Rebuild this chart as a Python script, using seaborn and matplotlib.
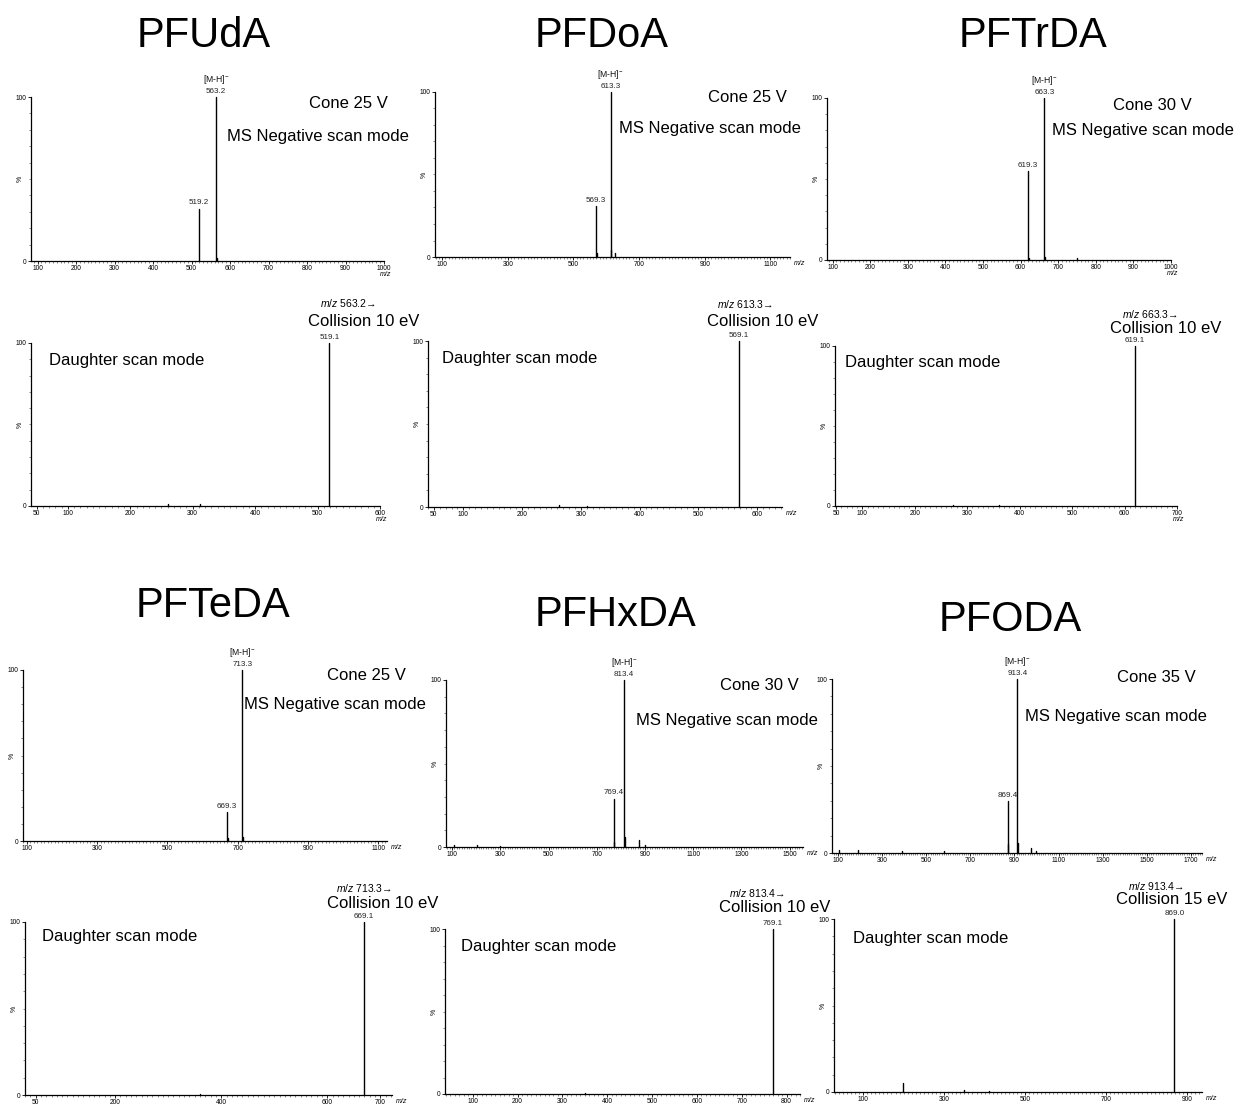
import numpy as np
import pandas as pd
import matplotlib
matplotlib.use("Agg")
import matplotlib.pyplot as plt
from matplotlib.ticker import MultipleLocator
import seaborn as sns

W, H, DPI = 1235, 1104, 100

# ---- compounds and acquisition settings ----
compounds = ["PFUdA", "PFDoA", "PFTrDA", "PFTeDA", "PFHxDA", "PFODA"]
cone_voltages = [25, 25, 30, 25, 30, 35]
collision_energies = [10, 10, 10, 10, 10, 15]

# ---- full-scan (MS negative) spectra ----
precursor_mz = [563.2, 613.3, 663.3, 713.3, 813.4, 913.4]
precursor_pct = [100, 100, 100, 100, 100, 100]
fragment_mz = [519.2, 569.3, 619.3, 669.3, 769.4, 869.4]
fragment_pct = [32, 31, 55, 17, 29, 30]

pfuda_ms_minor_mz = [565.2]
pfuda_ms_minor_pct = [2.0]
pfdoa_ms_minor_mz = [571.3, 615.3, 628.0]
pfdoa_ms_minor_pct = [2.5, 4.0, 2.5]
pftrda_ms_minor_mz = [621.3, 665.3, 750.0]
pftrda_ms_minor_pct = [1.5, 2.0, 1.0]
pfteda_ms_minor_mz = [671.3, 715.3]
pfteda_ms_minor_pct = [2.0, 2.5]
pfhxda_ms_minor_mz = [110, 205, 300, 771.4, 815.4, 877.0, 899.0]
pfhxda_ms_minor_pct = [1.2, 1.0, 0.8, 3.0, 6.0, 4.0, 1.2]
pfoda_ms_minor_mz = [105, 190, 390, 580, 871.4, 915.4, 977.0, 999.0]
pfoda_ms_minor_pct = [2.0, 1.5, 1.0, 1.0, 5.0, 6.0, 3.0, 1.2]

# ---- daughter (product ion) spectra ----
product_mz = [519.1, 569.1, 619.1, 669.1, 769.1, 869.0]
product_pct = [100, 100, 100, 100, 100, 100]

pfuda_ds_minor_mz = [260, 311]
pfuda_ds_minor_pct = [1.0, 1.0]
pfdoa_ds_minor_mz = [262, 311]
pfdoa_ds_minor_pct = [1.0, 0.8]
pftrda_ds_minor_mz = [273, 360]
pftrda_ds_minor_pct = [0.8, 0.6]
pfteda_ds_minor_mz = [360]
pfteda_ds_minor_pct = [0.6]
pfhxda_ds_minor_mz = [350]
pfhxda_ds_minor_pct = [0.6]
pfoda_ds_minor_mz = [199, 349, 411]
pfoda_ds_minor_pct = [5.0, 1.0, 0.8]

ms_minor = [
    (pfuda_ms_minor_mz, pfuda_ms_minor_pct),
    (pfdoa_ms_minor_mz, pfdoa_ms_minor_pct),
    (pftrda_ms_minor_mz, pftrda_ms_minor_pct),
    (pfteda_ms_minor_mz, pfteda_ms_minor_pct),
    (pfhxda_ms_minor_mz, pfhxda_ms_minor_pct),
    (pfoda_ms_minor_mz, pfoda_ms_minor_pct),
]
ds_minor = [
    (pfuda_ds_minor_mz, pfuda_ds_minor_pct),
    (pfdoa_ds_minor_mz, pfdoa_ds_minor_pct),
    (pftrda_ds_minor_mz, pftrda_ds_minor_pct),
    (pfteda_ds_minor_mz, pfteda_ds_minor_pct),
    (pfhxda_ds_minor_mz, pfhxda_ds_minor_pct),
    (pfoda_ds_minor_mz, pfoda_ds_minor_pct),
]

# ---- axis ranges and tick labels ----
ms_xlims = [(83, 1000), (78, 1160), (85, 1000), (89, 1125), (75, 1555), (73, 1750)]
ms_xticks = [
    list(range(100, 1001, 100)),
    list(range(100, 1101, 200)),
    list(range(100, 1001, 100)),
    list(range(100, 1101, 200)),
    list(range(100, 1501, 200)),
    list(range(100, 1701, 200)),
]
ds_xlims = [(41, 600), (40, 642), (48, 700), (30, 722), (38, 830), (28, 937)]
ds_xticks = [
    [50, 100, 200, 300, 400, 500, 600],
    [50, 100, 200, 300, 400, 500, 600],
    [50, 100, 200, 300, 400, 500, 600, 700],
    [50, 200, 400, 600, 700],
    [100, 200, 300, 400, 500, 600, 700, 800],
    [100, 300, 500, 700, 900],
]

sns.set_style("ticks")
plt.rcParams["font.family"] = ["Liberation Sans", "DejaVu Sans"]
plt.rcParams["mathtext.fontset"] = "custom"
plt.rcParams["mathtext.rm"] = "Liberation Sans"
plt.rcParams["mathtext.it"] = "Liberation Sans:italic"
for key in ["text.color", "axes.labelcolor", "xtick.color", "ytick.color"]:
    plt.rcParams[key] = "black"

fig = plt.figure(figsize=(W / DPI, H / DPI), dpi=DPI)
fig.patch.set_facecolor("white")


def px_axes(left, top, right, bottom):
    return fig.add_axes([left / W, 1 - bottom / H, (right - left) / W, (bottom - top) / H])


def fig_text(x, y, s, **kw):
    fig.text(x / W, 1 - y / H, s, **kw)


def draw_sticks(ax, mz, pct):
    mz = np.asarray(mz, float)
    pct = np.asarray(pct, float)
    df = pd.DataFrame({
        "mz": np.repeat(mz, 2),
        "pct": np.column_stack([np.zeros_like(pct), pct]).ravel(),
        "peak": np.repeat(np.arange(len(mz)), 2),
    })
    sns.lineplot(data=df, x="mz", y="pct", units="peak", estimator=None,
                 sort=False, color="black", linewidth=1.0, ax=ax, legend=False)
    for ln in ax.lines:
        ln.set_clip_on(False)


def style_axes(ax, xlim, xticks, mz_style):
    ax.set_xlim(*xlim)
    ax.set_ylim(0, 100)
    ax.set_xticks(xticks)
    ax.set_xticklabels([str(t) for t in xticks])
    ax.set_yticks([0, 100])
    ax.set_yticklabels(["0", "100"])
    ax.yaxis.set_minor_locator(MultipleLocator(10))
    ax.xaxis.set_minor_locator(MultipleLocator(10))
    ax.tick_params(axis="both", which="major", labelsize=4.8, length=2.2,
                   width=0.6, pad=1, color="black", labelcolor="black")
    ax.tick_params(axis="both", which="minor", length=1.2, width=0.4, color="#333333")
    for s in ["top", "right"]:
        ax.spines[s].set_visible(False)
    for s in ["left", "bottom"]:
        ax.spines[s].set_linewidth(0.9)
        ax.spines[s].set_color("black")
    ax.set_xlabel("")
    ax.set_ylabel("")
    ax.patch.set_alpha(0)
    ax.text(-0.03, 0.5, "%", transform=ax.transAxes, rotation=90,
            fontsize=5, ha="center", va="center")
    if mz_style == "under":
        ax.annotate("m/z", xy=(1, 0), xycoords="axes fraction", xytext=(1, -9.5),
                    textcoords="offset points", fontsize=5, style="italic",
                    ha="center", va="center")
    else:
        ax.annotate("m/z", xy=(1, 0), xycoords="axes fraction", xytext=(7, -4.4),
                    textcoords="offset points", fontsize=5, style="italic",
                    ha="center", va="center")


def label_peak(ax, mz, pct, main=False):
    ax.annotate(f"{mz:.1f}", xy=(mz, pct), xytext=(0, 1.5), textcoords="offset points",
                fontsize=5.8, ha="center", va="bottom", color="#222222")
    if main:
        ax.annotate(r"[M-H]$^{-}$", xy=(mz, pct), xytext=(0, 8), textcoords="offset points",
                    fontsize=6.2, ha="center", va="bottom", color="#111111")


# ---- layout (pixel boxes: left, top, right, bottom) ----
ms_boxes = [(31, 97, 384, 261), (435, 92, 790, 257), (827, 98, 1171, 260),
            (23, 670, 387, 841), (446, 680, 803, 847), (832, 679, 1202, 853)]
ms_mz_style = ["under", "right", "under", "right", "right", "right"]
ds_boxes = [(31, 343, 380, 506), (428, 341, 782, 507), (835, 346, 1177, 506),
            (25, 922, 392, 1095), (445, 929, 800, 1094), (834, 919, 1202, 1092)]
ds_mz_style = ["under", "right", "under", "right", "right", "right"]

title_pos = [(204, 36), (602, 36), (1033, 36), (213, 606), (616, 615), (1010, 620)]
cone_pos = [(348, 104), (747, 97), (1152, 106), (366, 676), (759, 686), (1156, 678)]
msmode_pos = [(318, 136), (710, 128), (1143, 131), (335, 704), (727, 720), (1116, 716)]
prec_pos = [(348, 303), (745, 304), (1150, 314), (364, 888), (757, 893), (1156, 886)]
coll_pos = [(364, 321), (763, 321), (1166, 329), (383, 903), (775, 907), (1172, 900)]
daughter_pos = [(127, 360), (520, 358), (923, 362), (120, 937), (539, 947), (931, 939)]

for i, name in enumerate(compounds):
    # full scan spectrum
    ax = px_axes(*ms_boxes[i])
    mn_mz, mn_pct = ms_minor[i]
    draw_sticks(ax, [precursor_mz[i], fragment_mz[i]] + list(mn_mz),
                [precursor_pct[i], fragment_pct[i]] + list(mn_pct))
    style_axes(ax, ms_xlims[i], ms_xticks[i], ms_mz_style[i])
    label_peak(ax, precursor_mz[i], precursor_pct[i], main=True)
    label_peak(ax, fragment_mz[i], fragment_pct[i])

    # daughter scan spectrum
    ax2 = px_axes(*ds_boxes[i])
    dmn_mz, dmn_pct = ds_minor[i]
    draw_sticks(ax2, [product_mz[i]] + list(dmn_mz), [product_pct[i]] + list(dmn_pct))
    style_axes(ax2, ds_xlims[i], ds_xticks[i], ds_mz_style[i])
    label_peak(ax2, product_mz[i], product_pct[i])

    # annotations
    fig_text(*title_pos[i], name, fontsize=30, ha="center", va="center")
    fig_text(*cone_pos[i], f"Cone {cone_voltages[i]} V", fontsize=12, ha="center", va="center")
    fig_text(*msmode_pos[i], "MS Negative scan mode", fontsize=12, ha="center", va="center")
    fig_text(*prec_pos[i], f"$m/z$ {precursor_mz[i]:.1f}\u2192", fontsize=7.5,
             ha="center", va="center")
    fig_text(*coll_pos[i], f"Collision {collision_energies[i]} eV", fontsize=12,
             ha="center", va="center")
    fig_text(*daughter_pos[i], "Daughter scan mode", fontsize=12, ha="center", va="center")

fig.savefig("out.png", dpi=DPI, facecolor="white")
